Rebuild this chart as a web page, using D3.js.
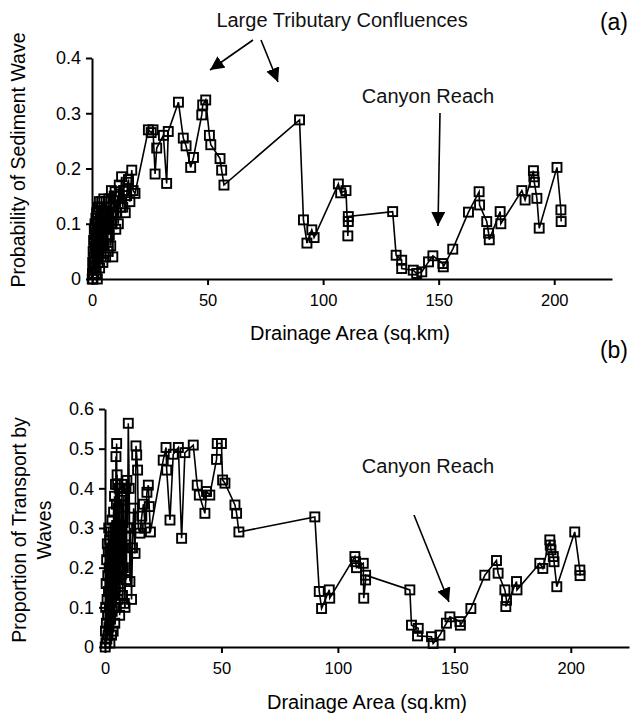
<!DOCTYPE html>
<html lang="en">
  <head>
    <meta charset="UTF-8">
    <title>Sediment Waves vs Drainage Area</title>
    <script src="https://d3js.org/d3.v7.min.js"></script>
    <style>
      body {
        margin: 0;
        padding: 0;
        background-color: #fff;
        font-family: 'Liberation Sans', Arial, sans-serif;
      }
      .axis path,
      .axis line {
        fill: none;
        stroke: #000;
        stroke-width: 2px;
      }
      .axis text {
        font-family: 'Liberation Sans', Arial, sans-serif;
        fill: #000;
      }
      .note {
        font-size: 20px;
        fill: #111;
      }
    </style>
  </head>
  <body>
    <script>
      // panel (a): probability of sediment wave
      const areaA = [0.1, 0.2, 0.3, 0.4, 0.5, 0.6, 0.7, 0.8, 0.9, 1.0, 1.1, 1.2, 1.3, 1.4, 1.5, 1.6, 1.7, 1.8, 1.9, 2.0,
        2.1, 2.2, 2.3, 2.4, 2.5, 2.6, 2.7, 2.8, 2.9, 3.0, 3.2, 3.3, 3.5, 3.6, 3.8, 3.9, 4.1, 4.2, 4.4, 4.6,
        4.7, 4.9, 5.1, 5.3, 5.5, 5.7, 5.9, 6.1, 6.3, 6.5, 6.8, 7.0, 7.3, 7.5, 7.8, 8.1, 8.4, 8.7, 9.0, 9.3,
        9.6, 10.0, 10.3, 10.7, 11.0, 11.4, 11.8, 12.2, 12.8, 13.3, 13.8, 14.4, 15.0, 15.5, 15.8, 16.4, 17.2, 17.8, 18.6,
        24.4, 25.6, 26.4, 27.3, 28.0, 30.9, 32.3, 33.0, 37.4, 39.5, 40.7, 42.7, 43.9, 47.5, 47.9, 49.2, 50.8, 51.4,
        55.4, 56.1, 57.1, 89.8, 91.5, 93.0, 95.1, 96.1, 106.6, 107.6, 109.9, 110.7, 110.9, 110.9,
        130.1, 131.6, 134.0, 134.0, 139.0, 140.5, 142.7, 145.6, 147.5, 151.8, 152.0, 156.1, 162.9, 167.5, 167.7,
        170.8, 171.6, 171.9, 176.6, 176.9, 186.0, 187.4, 191.0, 191.2, 191.4, 192.5, 193.5, 201.2, 202.9, 203.0];
      const probA = [0.0, 0.01, 0.03, 0.0, 0.05, 0.02, 0.07, 0.01, 0.04, 0.09, 0.03, 0.06, 0.1, 0.02, 0.08, 0.05, 0.11, 0.01, 0.07, 0.12,
        0.04, 0.09, 0.0, 0.06, 0.12, 0.03, 0.1, 0.13, 0.05, 0.08, 0.14, 0.02, 0.11, 0.06, 0.13, 0.04, 0.1, 0.14, 0.07, 0.12,
        0.03, 0.09, 0.145, 0.06, 0.12, 0.1, 0.04, 0.14, 0.08, 0.13, 0.05, 0.11, 0.145, 0.08, 0.13, 0.06, 0.16, 0.1, 0.04, 0.12,
        0.15, 0.158, 0.09, 0.12, 0.15, 0.1, 0.17, 0.13, 0.185, 0.13, 0.16, 0.12, 0.151, 0.175, 0.18, 0.14, 0.197, 0.16, 0.155,
        0.27, 0.265, 0.27, 0.19, 0.237, 0.26, 0.173, 0.267, 0.32, 0.255, 0.241, 0.202, 0.22, 0.297, 0.315, 0.324, 0.26, 0.243,
        0.218, 0.197, 0.17, 0.288, 0.107, 0.065, 0.089, 0.075, 0.172, 0.156, 0.16, 0.078, 0.104, 0.113,
        0.122, 0.043, 0.034, 0.019, 0.016, 0.01, 0.013, 0.031, 0.042, 0.028, 0.022, 0.054, 0.121, 0.158, 0.134,
        0.104, 0.083, 0.071, 0.122, 0.1, 0.16, 0.143, 0.196, 0.185, 0.175, 0.146, 0.092, 0.202, 0.125, 0.104];

      // panel (b): proportion of transport by waves
      const areaB = [0.1, 0.2, 0.3, 0.4, 0.5, 0.6, 0.7, 0.8, 0.9, 1.0, 1.1, 1.2, 1.3, 1.4, 1.5, 1.6, 1.7, 1.8, 1.9, 2.0,
        2.1, 2.2, 2.3, 2.4, 2.5, 2.6, 2.7, 2.8, 2.9, 3.0, 3.1, 3.2, 3.3, 3.4, 3.5, 3.6, 3.7, 3.8, 3.9, 4.0,
        4.1, 4.2, 4.3, 4.4, 4.5, 4.6, 4.7, 4.8, 4.9, 5.0, 5.1, 5.2, 5.3, 5.4, 5.5,
        5.7, 5.9, 6.1, 6.3, 6.5, 6.7, 6.9, 7.1, 7.3, 7.5, 7.7, 7.9, 8.1, 8.3, 8.6, 8.8, 9.0, 9.2, 9.4, 9.7,
        10.0, 10.4, 10.7, 11.0, 11.4, 11.8, 12.3, 12.9, 13.3, 13.6, 14.0, 14.3, 15.0, 15.8, 16.5, 17.3, 18.0, 18.6, 19.0, 19.5,
        25.0, 26.2, 26.5, 27.9, 29.3, 31.5, 32.9, 34.3, 37.9, 39.6, 40.5, 42.9, 43.6, 45.0,
        47.9, 48.2, 50.0, 50.5, 51.5, 55.8, 56.5, 57.5, 90.1, 92.0, 93.0, 96.3, 96.5, 107.3, 107.6, 108.0,
        110.9, 111.1, 111.9, 111.9, 130.9, 131.6, 134.5, 134.2, 140.2, 140.9, 143.8, 146.6, 148.1, 152.4, 152.6,
        157.1, 163.1, 168.1, 168.8, 171.7, 172.4, 172.1, 176.7, 176.9, 186.7, 188.0, 191.0, 191.2, 191.5, 192.5,
        192.8, 194.0, 201.7, 203.9, 204.0];
      const propB = [0.0, 0.04, 0.1, 0.01, 0.16, 0.06, 0.22, 0.02, 0.12, 0.26, 0.08, 0.18, 0.03, 0.24, 0.14, 0.3, 0.05, 0.2, 0.1, 0.27,
        0.01, 0.16, 0.23, 0.07, 0.29, 0.12, 0.19, 0.03, 0.25, 0.32, 0.09, 0.21, 0.14, 0.28, 0.04, 0.17, 0.34, 0.1, 0.26, 0.2,
        0.38, 0.06, 0.3, 0.15, 0.41, 0.23, 0.48, 0.1, 0.36, 0.513, 0.27, 0.434, 0.18, 0.41, 0.12,
        0.35, 0.22, 0.4, 0.08, 0.3, 0.16, 0.37, 0.25, 0.41, 0.13, 0.33, 0.2, 0.38, 0.11, 0.1, 0.28, 0.4, 0.17, 0.42, 0.3,
        0.564, 0.4, 0.165, 0.3, 0.12, 0.25, 0.35, 0.236, 0.507, 0.484, 0.446, 0.3, 0.287, 0.33, 0.36, 0.3, 0.39, 0.408, 0.354, 0.29,
        0.471, 0.503, 0.446, 0.32, 0.486, 0.503, 0.274, 0.49, 0.509, 0.408, 0.383, 0.337, 0.392, 0.383,
        0.473, 0.513, 0.513, 0.421, 0.413, 0.358, 0.337, 0.29, 0.328, 0.14, 0.097, 0.144, 0.123, 0.228, 0.215, 0.2,
        0.211, 0.123, 0.169, 0.181, 0.144, 0.055, 0.047, 0.028, 0.026, 0.009, 0.03, 0.06, 0.076, 0.064, 0.055,
        0.097, 0.181, 0.218, 0.186, 0.144, 0.118, 0.102, 0.165, 0.144, 0.211, 0.198, 0.27, 0.257, 0.245, 0.228,
        0.215, 0.152, 0.29, 0.194, 0.18];

      const xTicks = [0, 50, 100, 150, 200];
      const yTicksA = [0, 0.1, 0.2, 0.3, 0.4];
      const yTickLabelsA = ["0", "0.1", "0.2", "0.3", "0.4"];
      const yTicksB = [0, 0.1, 0.2, 0.3, 0.4, 0.5, 0.6];
      const yTickLabelsB = ["0", "0.1", "0.2", "0.3", "0.4", "0.5", "0.6"];

      const svg = d3.select("body").append("svg").attr("width", 631).attr("height", 717);

      svg.append("defs").append("marker")
        .attr("id", "head").attr("viewBox", "0 0 10 10")
        .attr("refX", 10).attr("refY", 5)
        .attr("markerWidth", 14).attr("markerHeight", 14)
        .attr("markerUnits", "userSpaceOnUse")
        .attr("orient", "auto")
        .append("path").attr("d", "M0,0L10,5L0,10Z").attr("fill", "#000");

      function panel(xs, ys, o) {
        const x = d3.scaleLinear().domain([0, 225]).range([o.left, o.right]);
        const y = d3.scaleLinear().domain([0, o.ymax]).range([o.bottom, o.top]);
        const g = svg.append("g");

        g.append("g").attr("class", "axis").attr("transform", `translate(0,${o.bottom})`)
          .call(d3.axisBottom(x).tickValues(xTicks).tickSize(6).tickSizeOuter(0).tickPadding(9))
          .selectAll("text").style("font-size", "16.5px");
        g.append("g").attr("class", "axis").attr("transform", `translate(${o.left},0)`)
          .call(d3.axisLeft(y).tickValues(o.yTicks).tickFormat((d, i) => o.yLabels[i]).tickSize(6).tickSizeOuter(0).tickPadding(5))
          .selectAll("text").style("font-size", "18px");

        const pts = xs.map((v, i) => [v, ys[i]]);
        g.append("path").datum(pts)
          .attr("fill", "none").attr("stroke", "#000").attr("stroke-width", 1.6)
          .attr("d", d3.line().x(d => x(d[0])).y(d => y(d[1])));
        g.selectAll(".pt").data(pts).enter().append("rect").attr("class", "pt")
          .attr("x", d => x(d[0]) - 4.5).attr("y", d => y(d[1]) - 4.5)
          .attr("width", 9).attr("height", 9)
          .attr("fill", "none").attr("stroke", "#000").attr("stroke-width", 1.9);
        return { x, y };
      }

      panel(areaA, probA, { left: 92, right: 612, top: 58, bottom: 279, ymax: 0.4, yTicks: yTicksA, yLabels: yTickLabelsA });
      panel(areaB, propB, { left: 105, right: 629, top: 409, bottom: 647, ymax: 0.6, yTicks: yTicksB, yLabels: yTickLabelsB });

      // axis titles
      svg.append("text").attr("x", 350).attr("y", 340).attr("text-anchor", "middle").style("font-size", "20px").text("Drainage Area (sq.km)");
      svg.append("text").attr("x", 367).attr("y", 709).attr("text-anchor", "middle").style("font-size", "20px").text("Drainage Area (sq.km)");
      svg.append("text").attr("transform", "translate(25,160) rotate(-90)").attr("text-anchor", "middle").style("font-size", "19.5px").text("Probability of Sediment Wave");
      svg.append("text").attr("transform", "translate(26,530) rotate(-90)").attr("text-anchor", "middle").style("font-size", "19.5px").text("Proportion of Transport by");
      svg.append("text").attr("transform", "translate(51,530) rotate(-90)").attr("text-anchor", "middle").style("font-size", "19.5px").text("Waves");

      // panel letters
      svg.append("text").attr("x", 628).attr("y", 30).attr("text-anchor", "end").style("font-size", "23px").text("(a)");
      svg.append("text").attr("x", 628).attr("y", 358).attr("text-anchor", "end").style("font-size", "23px").text("(b)");

      // annotations
      svg.append("text").attr("class", "note").attr("x", 342).attr("y", 27).attr("text-anchor", "middle").text("Large Tributary Confluences");
      svg.append("text").attr("class", "note").attr("x", 428).attr("y", 103).attr("text-anchor", "middle").text("Canyon Reach");
      svg.append("text").attr("class", "note").attr("x", 428).attr("y", 473).attr("text-anchor", "middle").text("Canyon Reach");

      const arrows = [
        [253, 40, 210, 70],
        [261, 40, 278, 82],
        [440, 113, 438, 226],
        [414, 515, 449, 602]
      ];
      svg.selectAll(".arrow").data(arrows).enter().append("line").attr("class", "arrow")
        .attr("x1", d => d[0]).attr("y1", d => d[1]).attr("x2", d => d[2]).attr("y2", d => d[3])
        .attr("stroke", "#000").attr("stroke-width", 1.6).attr("marker-end", "url(#head)");
    </script>
  </body>
</html>
